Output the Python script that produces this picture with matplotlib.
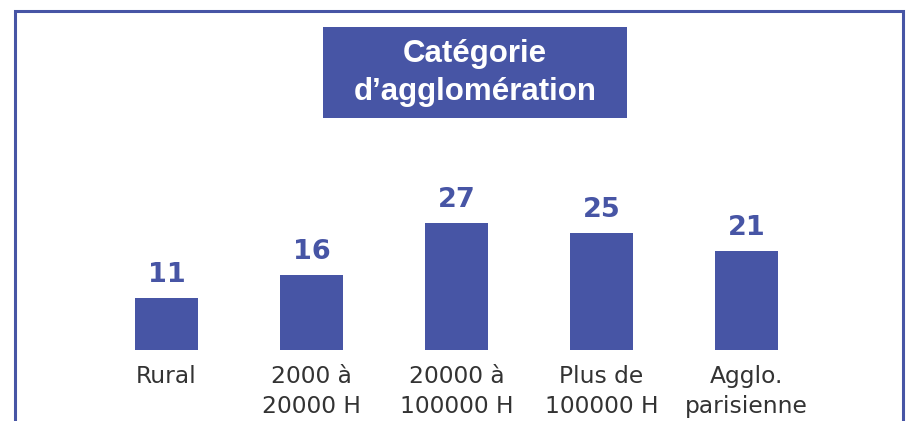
import matplotlib
matplotlib.use('Agg')
import matplotlib.pyplot as plt
from matplotlib.patches import Rectangle
import numpy as np

# données
categories = ['Rural', '2000 à\n20000 H', '20000 à\n100000 H', 'Plus de\n100000 H', 'Agglo.\nparisienne']
valeurs = [11, 16, 27, 25, 21]
titre = 'Catégorie\nd\u2019agglomération'

BLEU = '#4755a5'
W, H = 909, 421

fig = plt.figure(figsize=(W / 100, H / 100), dpi=100)

# axe placé en pixels : base des barres à y=350 (depuis le haut)
ax = fig.add_axes([94 / W, 71 / H, 725 / W, 350 / H])
x = np.arange(len(categories))
barres = ax.bar(x, valeurs, width=0.434, color=BLEU)
ax.set_xlim(-0.5, len(categories) - 0.5)
ax.set_ylim(0, 350 / 4.70)
ax.axis('off')

# valeurs au-dessus des barres
for rect, v in zip(barres, valeurs):
    ax.annotate('{}'.format(v),
                xy=(rect.get_x() + rect.get_width() / 2, rect.get_height()),
                xytext=(0, 11.5), textcoords='offset points',
                ha='center', va='baseline', fontsize=19.5,
                fontweight='bold', color=BLEU, family='DejaVu Sans')

# étiquettes sous les barres
for i, lab in enumerate(categories):
    ax.annotate(lab, xy=(i, 0), xytext=(0, -10.5), textcoords='offset points',
                ha='center', va='top', fontsize=16.8, color='#333333',
                family='DejaVu Sans', linespacing=1.42, annotation_clip=False)

# cadre bleu
fig.patches.append(Rectangle((15 / W, -0.1), 888 / W, 1.1 - 11 / H,
                             transform=fig.transFigure, fill=False,
                             edgecolor=BLEU, linewidth=2.2, clip_on=False))

# titre dans un cartouche
fig.patches.append(Rectangle((323 / W, 1 - 118 / H), 304 / W, 91 / H,
                             transform=fig.transFigure, facecolor=BLEU,
                             edgecolor='none'))
fig.text(475 / W, 1 - 73 / H, titre, ha='center', va='center',
         fontsize=22.5, fontweight='bold', color='white',
         family='Liberation Sans', linespacing=1.37)

plt.savefig('out.png', dpi=100)
